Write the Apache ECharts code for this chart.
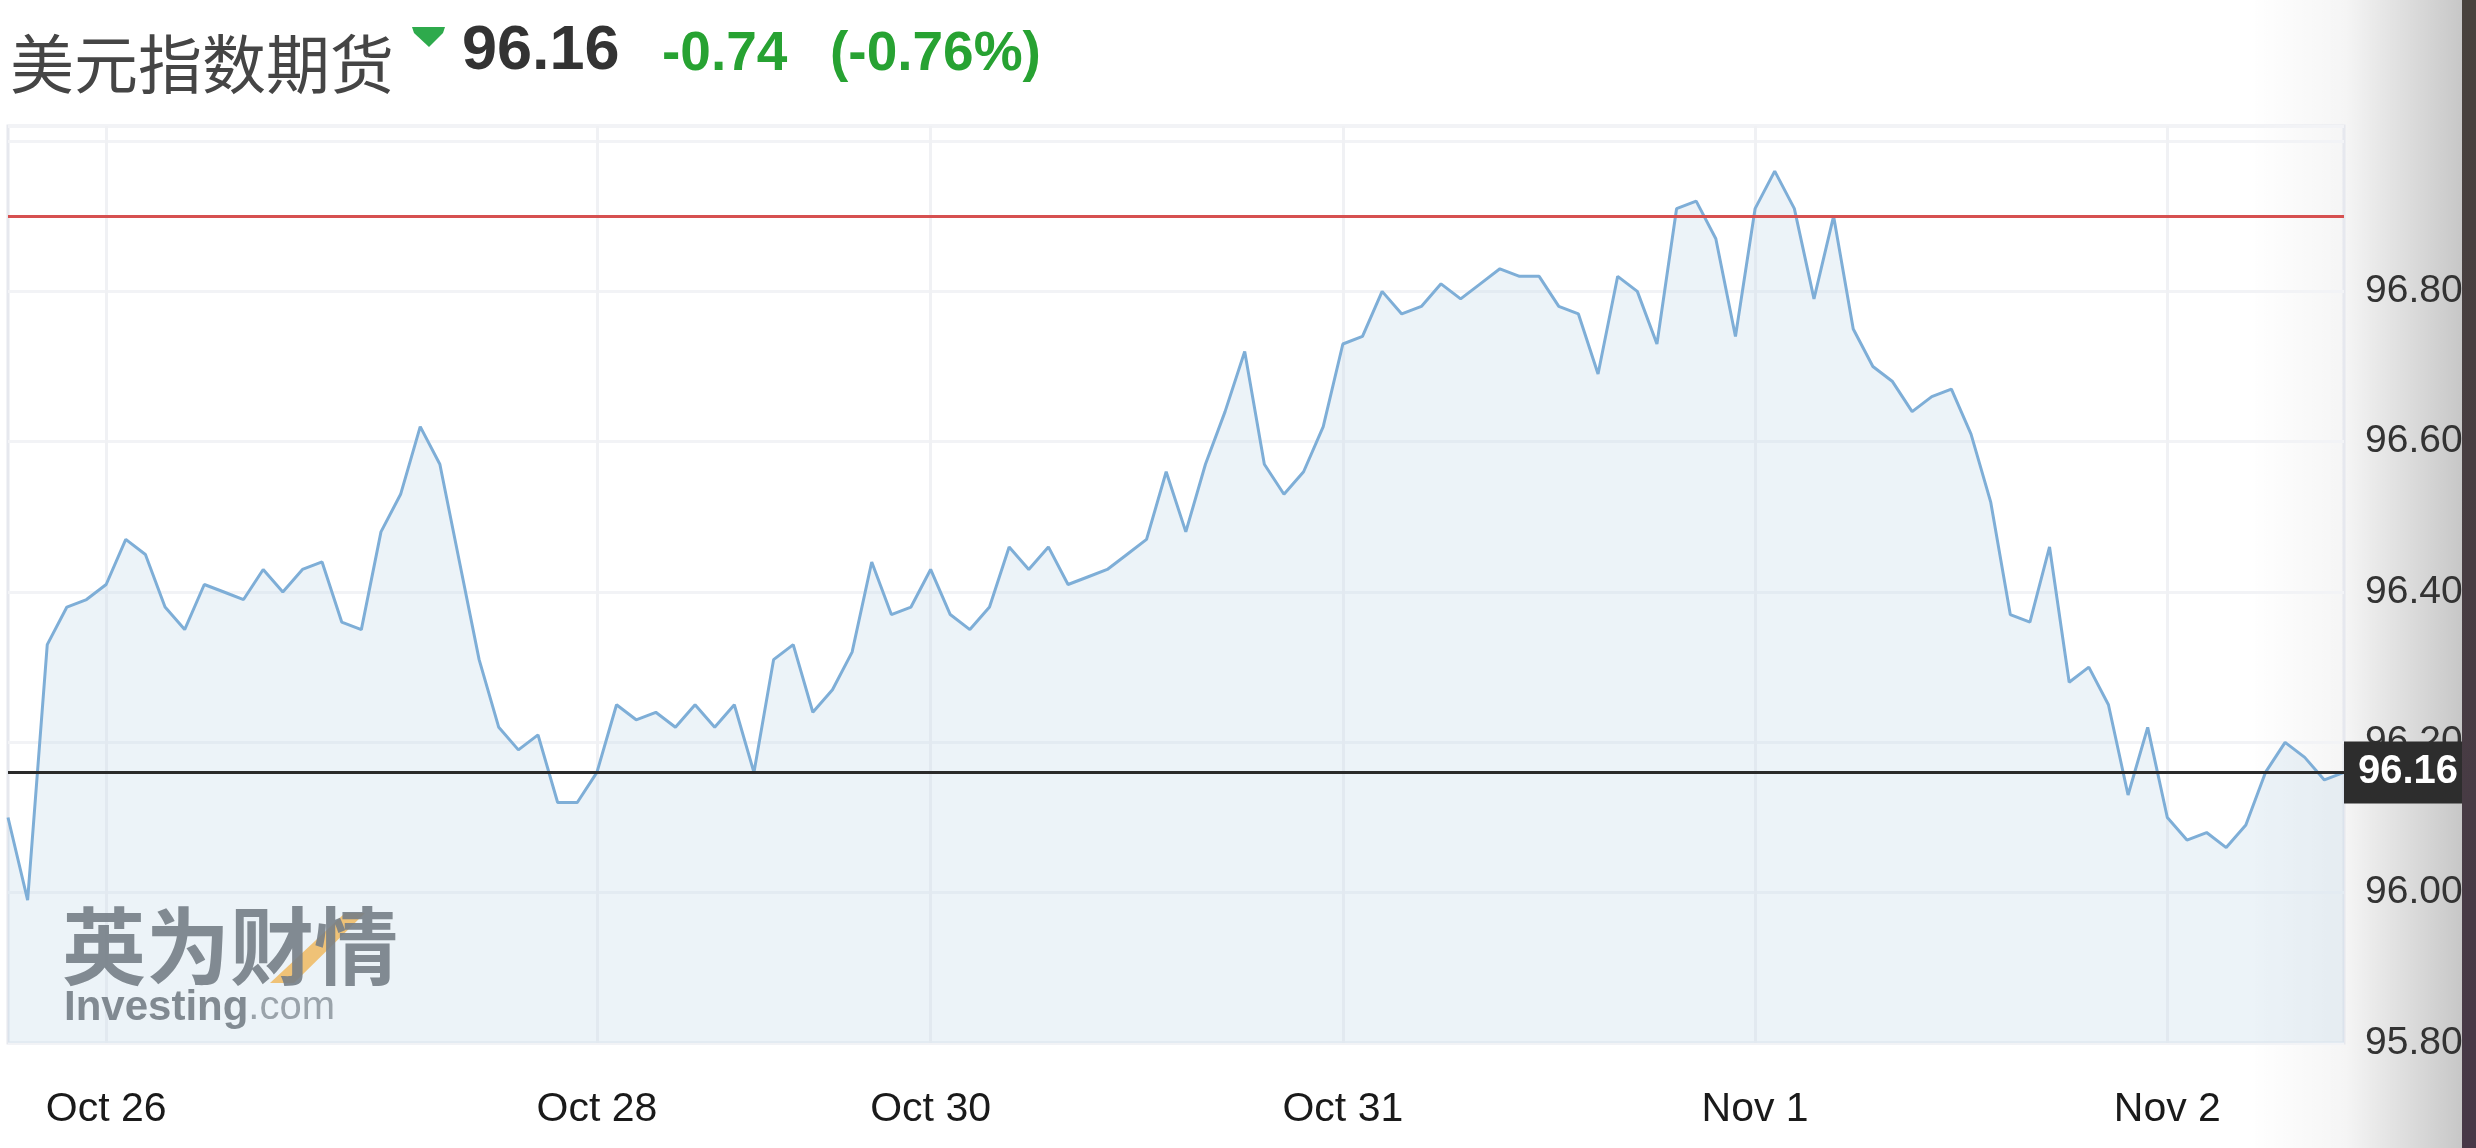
<!DOCTYPE html>
<html>
<head>
<meta charset="utf-8">
<title>美元指数期货</title>
<script src="https://cdn.jsdelivr.net/npm/echarts@6/dist/echarts.min.js"></script>
<style>
  html, body { margin: 0; padding: 0; background: #fff; }
  #chart { width: 2476px; height: 1148px; }
</style>
</head>
<body>
<div id="chart"></div>
<script>
// 价格数据（每根约1小时），从左到右
const prices = [
  96.10, 95.99, 96.33, 96.38, 96.39, 96.41, 96.47, 96.45, 96.38, 96.35,
  96.41, 96.40, 96.39, 96.43, 96.40, 96.43, 96.44, 96.36, 96.35, 96.48,
  96.53, 96.62, 96.57, 96.44, 96.31, 96.22, 96.19, 96.21, 96.12, 96.12,
  96.16, 96.25, 96.23, 96.24, 96.22, 96.25, 96.22, 96.25, 96.16, 96.31,
  96.33, 96.24, 96.27, 96.32, 96.44, 96.37, 96.38, 96.43, 96.37, 96.35,
  96.38, 96.46, 96.43, 96.46, 96.41, 96.42, 96.43, 96.45, 96.47, 96.56,
  96.48, 96.57, 96.64, 96.72, 96.57, 96.53, 96.56, 96.62, 96.73, 96.74,
  96.80, 96.77, 96.78, 96.81, 96.79, 96.81, 96.83, 96.82, 96.82, 96.78,
  96.77, 96.69, 96.82, 96.80, 96.73, 96.91, 96.92, 96.87, 96.74, 96.91,
  96.96, 96.91, 96.79, 96.90, 96.75, 96.70, 96.68, 96.64, 96.66, 96.67,
  96.61, 96.52, 96.37, 96.36, 96.46, 96.28, 96.30, 96.25, 96.13, 96.22,
  96.10, 96.07, 96.08, 96.06, 96.09, 96.16, 96.20, 96.18, 96.15, 96.16
]
// 日期刻度
const dayLabels = ["Oct 26", "Oct 28", "Oct 30", "Oct 31", "Nov 1", "Nov 2"]
const dayIndex = [5, 30, 47, 68, 89, 110]
const yTicks = [95.8, 96.0, 96.2, 96.4, 96.6, 96.8]
const prevClose = 96.90
const lastPrice = 96.16
const change = "-0.74"
const changePct = "(-0.76%)"
const title = "美元指数期货"

// 类目：日期起点用日期名，其余用序号
const categories = prices.map((p, i) => {
  let k = dayIndex.indexOf(i)
  return k >= 0 ? dayLabels[k] : String(i)
})

const chart = echarts.init(document.getElementById("chart"))
const isDayStart = idx => dayIndex.indexOf(idx) >= 0
const axisFont = "'Liberation Sans', Arial, sans-serif"

chart.setOption({
  animation: false,
  backgroundColor: "#fff",
  grid: {
    left: 8,
    right: 132,
    top: 126,
    bottom: 105,
    show: true,
    borderColor: "#e6e8ee",
    borderWidth: 3,
    outerBoundsMode: "none"
  },
  xAxis: {
    type: "category",
    data: categories,
    boundaryGap: false,
    axisLine: { show: false },
    axisTick: { show: false },
    axisLabel: {
      interval: isDayStart,
      margin: 46,
      fontSize: 41,
      color: "#1a1a1a",
      fontFamily: axisFont
    },
    splitLine: {
      show: true,
      interval: isDayStart,
      lineStyle: { color: "#f0f1f4", width: 3 }
    }
  },
  yAxis: {
    type: "value",
    position: "right",
    min: yTicks[0],
    max: 97.02,
    interval: 0.2,
    axisLine: { show: false },
    axisTick: { show: false },
    axisLabel: {
      margin: 21,
      fontSize: 39,
      color: "#333",
      fontFamily: axisFont,
      padding: [0, 0, 14, 0],
      formatter: v => (yTicks.some(t => Math.abs(t - v) < 1e-6) ? v.toFixed(2) : "")
    },
    splitLine: {
      lineStyle: { color: "#f2f3f6", width: 3 }
    }
  },
  series: [
    {
      type: "line",
      data: prices,
      symbol: "none",
      lineStyle: { color: "#7eaed7", width: 3 },
      areaStyle: { color: "rgba(196,216,233,0.45)" },
      z: 3,
      markLine: {
        silent: true,
        symbol: "none",
        animation: false,
        data: [
          {
            yAxis: prevClose,
            lineStyle: { color: "#d65050", width: 3, type: "solid" },
            label: { show: false }
          },
          {
            yAxis: lastPrice,
            lineStyle: { color: "#2a2a2a", width: 3, type: "solid" },
            label: {
              show: true,
              position: "end",
              distance: 0,
              formatter: lastPrice.toFixed(2),
              color: "#fff",
              fontSize: 40,
              fontWeight: "bold",
              fontFamily: axisFont,
              backgroundColor: "#2d2d2d",
              padding: [11, 16, 11, 14]
            }
          }
        ]
      }
    }
  ],
  graphic: [
    // 右侧截图阴影
    {
      type: "rect",
      z: -10,
      shape: { x: 2250, y: 0, width: 212, height: 1148 },
      style: {
        fill: new echarts.graphic.LinearGradient(0, 0, 1, 0, [
          { offset: 0, color: "rgba(0,0,0,0)" },
          { offset: 0.45, color: "rgba(0,0,0,0.04)" },
          { offset: 1, color: "rgba(0,0,0,0.22)" }
        ])
      }
    },
    {
      type: "rect",
      z: 100,
      shape: { x: 2462, y: 0, width: 14, height: 1148 },
      style: {
        fill: new echarts.graphic.LinearGradient(0, 0, 0, 1, [
          { offset: 0, color: "#48423d" },
          { offset: 1, color: "#473847" }
        ])
      }
    },
    // 标题
    {
      type: "text",
      left: 10,
      top: 32,
      style: {
        text: title,
        fontSize: 64,
        fontFamily: "'Noto Sans CJK SC', sans-serif",
        fill: "#454545"
      }
    },
    {
      type: "polygon",
      shape: { points: [[412, 27], [445, 27], [443, 33], [429, 47], [414, 33]] },
      style: { fill: "#2eaa4c" }
    },
    {
      type: "text",
      x: 462,
      y: 52,
      style: {
        text: lastPrice.toFixed(2),
        fontSize: 63,
        fontWeight: "bold",
        fontFamily: axisFont,
        fill: "#333",
        verticalAlign: "middle"
      }
    },
    {
      type: "text",
      x: 662,
      y: 55,
      style: {
        text: change,
        fontSize: 55,
        fontWeight: "bold",
        fontFamily: axisFont,
        fill: "#27a232",
        verticalAlign: "middle"
      }
    },
    {
      type: "text",
      x: 830,
      y: 55,
      style: {
        text: changePct,
        fontSize: 55,
        fontWeight: "bold",
        fontFamily: axisFont,
        fill: "#27a232",
        verticalAlign: "middle"
      }
    },
    // 水印
    {
      type: "polygon",
      z: 5,
      shape: { points: [[270, 983], [294, 983], [365, 913], [345, 913]] },
      style: { fill: "rgba(240,184,96,0.85)" }
    },
    {
      type: "text",
      z: 6,
      x: 62,
      y: 946,
      style: {
        text: "英为财情",
        fontSize: 84,
        fontWeight: "bold",
        fontFamily: "'Noto Sans CJK SC', sans-serif",
        fill: "rgba(118,126,134,0.9)",
        verticalAlign: "middle"
      }
    },
    {
      type: "text",
      z: 6,
      x: 64,
      y: 1008,
      style: {
        text: "{a|Investing}{b|.com}",
        verticalAlign: "middle",
        rich: {
          a: { fontSize: 42, fontWeight: "bold", fontFamily: axisFont, fill: "rgba(118,126,134,0.9)" },
          b: { fontSize: 40, fontFamily: axisFont, fill: "rgba(140,148,156,0.85)" }
        }
      }
    }
  ]
})
</script>
</body>
</html>
